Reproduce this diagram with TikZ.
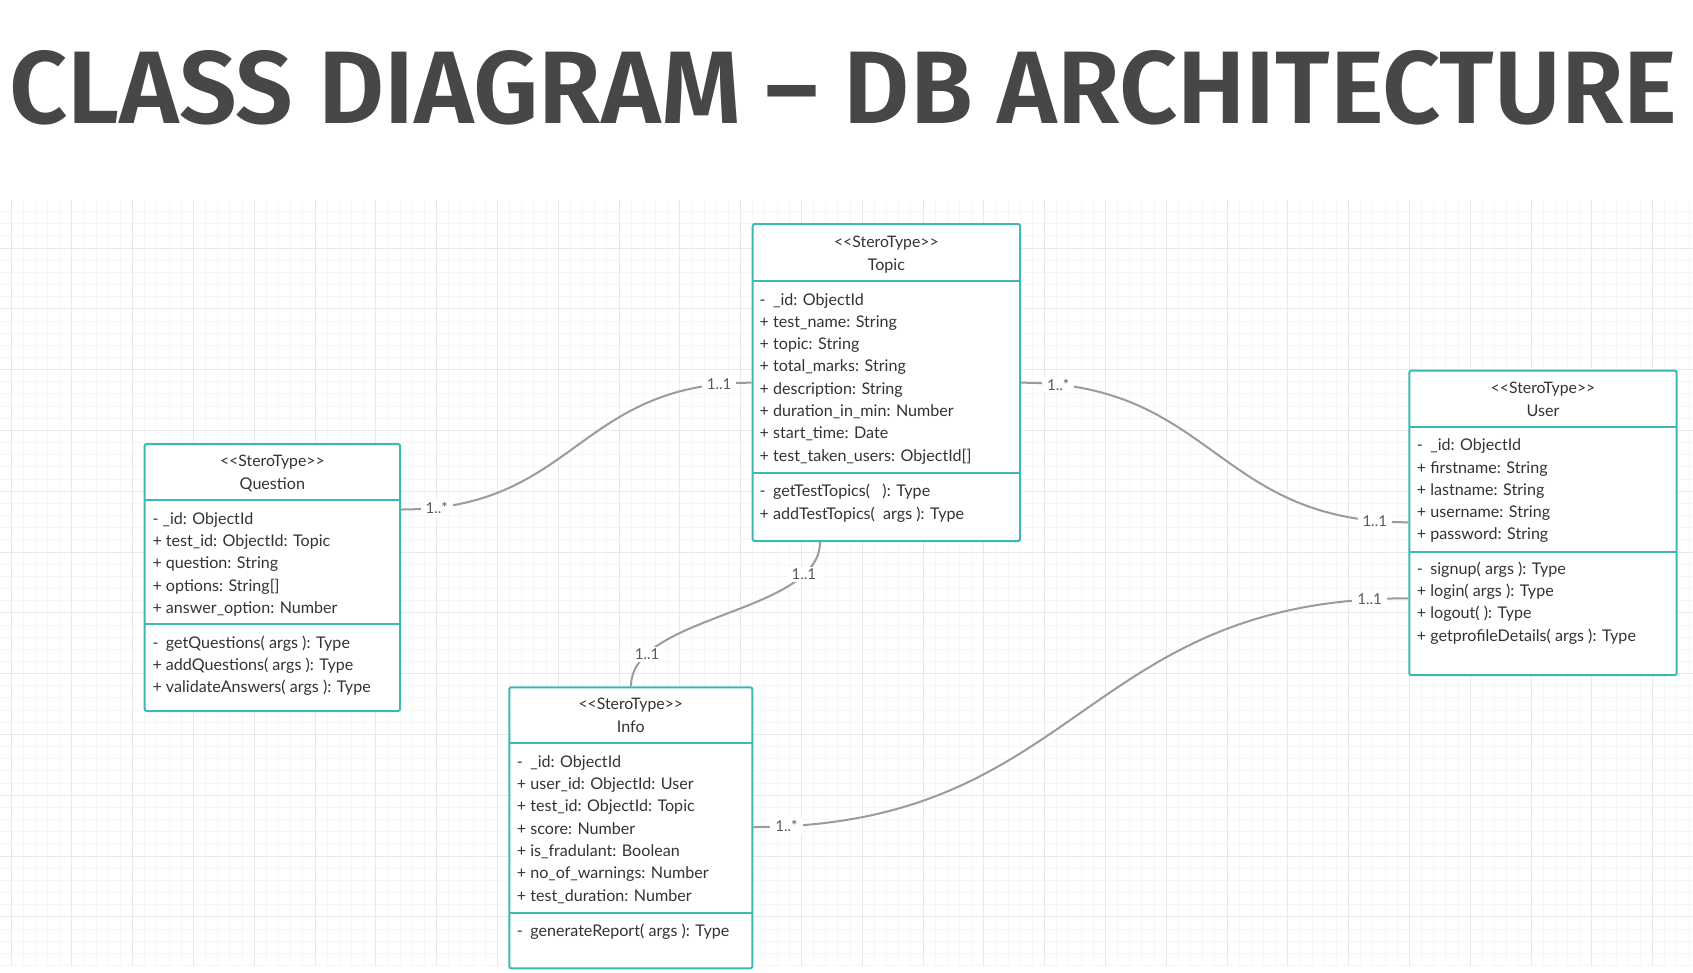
\documentclass[tikz,border=0pt]{standalone}
\usepackage{fontspec}
\usepackage{graphicx}
\setmainfont{Lato}
\newfontfamily\titlefont{Fira Sans}[UprightFont=* SemiBold]
\definecolor{boxc}{RGB}{62,184,180}
\definecolor{txtc}{RGB}{51,51,51}
\definecolor{linec}{RGB}{155,155,155}
\definecolor{multc}{RGB}{90,90,90}
\definecolor{gmin}{RGB}{246,246,246}
\definecolor{gmaj}{RGB}{233,233,233}
\definecolor{titlec}{RGB}{71,71,71}
\begin{document}
\begin{tikzpicture}[x=1pt,y=-1pt,
  gridminor/.style={draw=gmin, line width=1pt},
  gridmajor/.style={draw=gmaj, line width=1pt},
  umlbox/.style={draw=boxc, line width=2pt, rounded corners=2pt, fill=white, inner sep=0pt, outer sep=0pt, anchor=north west},
  sepline/.style={draw=boxc, line width=2pt},
  stereo/.style={anchor=base, inner sep=0pt, text=txtc, font=\fontsize{15.8}{18}\selectfont},
  cname/.style={anchor=base, inner sep=0pt, text=txtc, font=\fontsize{16.1}{18}\selectfont},
  member/.style={anchor=base west, inner sep=0pt, text=txtc, font=\fontsize{16.1}{18}\selectfont},
  conn/.style={draw=linec, line width=2pt, shorten <=1pt, shorten >=1pt},
  mult/.style={fill=white, text=multc, inner xsep=5pt, inner ysep=2pt, font=\fontsize{15}{18}\selectfont}
]
\path[use as bounding box, fill=white] (0,0) rectangle (1693,972);

% grid
\begin{scope}
\clip (0,200) rectangle (1693,966);
\foreach \k in {0,...,138} \draw[gridminor] ({11+12.16*\k},200) -- ({11+12.16*\k},966);
\foreach \k in {0,...,63} \draw[gridminor] (0,{199.4+12.16*\k}) -- (1693,{199.4+12.16*\k});
\foreach \k in {0,...,27} \draw[gridmajor] ({11+60.8*\k},200) -- ({11+60.8*\k},966);
\foreach \k in {0,...,12} \draw[gridmajor] (0,{187.2+60.8*\k}) -- (1693,{187.2+60.8*\k});
\end{scope}

% title
\node[anchor=north west, inner sep=0pt, text=titlec] (title) at (9,50)
  {\resizebox{1668pt}{73pt}{\titlefont CLASS DIAGRAM – DB ARCHITECTURE}};

% Topic
\node[umlbox, minimum width=267.3pt, minimum height=317pt] (topic) at (752.7,224) {};
\draw[sepline] (topic.west |- 0,281) -- (topic.east |- 0,281);
\draw[sepline] (topic.west |- 0,472.7) -- (topic.east |- 0,472.7);
\node[stereo] (topic-st) at (topic.north |- 0,247.3) {<{}<SteroType>{}>};
\node[cname] (topic-nm) at (topic.north |- 0,270) {Topic};
\foreach \mbr [count=\i from 0] in {
  {\rlap{-}\hphantom{+ }\_id: ObjectId},
  {+ test\_name: String},
  {+ topic: String},
  {+ total\_marks: String},
  {+ description: String},
  {+ duration\_in\_min: Number},
  {+ start\_time: Date},
  {+ test\_taken\_users: ObjectId[]}}
  \node[member] (topic-a\i) at (759.5,{305+22.3*\i}) {\mbr};
\foreach \mbr [count=\i from 0] in {
  {\rlap{-}\hphantom{+ }getTestTopics(\ \ \ ): Type},
  {+ addTestTopics(\ \ args ): Type}}
  \node[member] (topic-m\i) at (759.5,{496.7+22.3*\i}) {\mbr};

% Question
\node[umlbox, minimum width=255.3pt, minimum height=267pt] (question) at (144.7,444) {};
\draw[sepline] (question.west |- 0,500.3) -- (question.east |- 0,500.3);
\draw[sepline] (question.west |- 0,624.3) -- (question.east |- 0,624.3);
\node[stereo] (question-st) at (question.north |- 0,466) {<{}<SteroType>{}>};
\node[cname] (question-nm) at (question.north |- 0,489.3) {Question};
\foreach \mbr [count=\i from 0] in {
  {- \_id: ObjectId},
  {+ test\_id: ObjectId: Topic},
  {+ question: String},
  {+ options: String[]},
  {+ answer\_option: Number}}
  \node[member] (question-a\i) at (152.3,{524.3+22.3*\i}) {\mbr};
\foreach \mbr [count=\i from 0] in {
  {\rlap{-}\hphantom{+ }getQuestions( args ): Type},
  {+ addQuestions( args ): Type},
  {+ validateAnswers( args ): Type}}
  \node[member] (question-m\i) at (152.3,{648.3+22.3*\i}) {\mbr};

% Info
\node[umlbox, minimum width=243pt, minimum height=281pt] (info) at (509.3,687.3) {};
\draw[sepline] (info.west |- 0,742.7) -- (info.east |- 0,742.7);
\draw[sepline] (info.west |- 0,912.7) -- (info.east |- 0,912.7);
\node[stereo] (info-st) at (info.north |- 0,709) {<{}<SteroType>{}>};
\node[cname] (info-nm) at (info.north |- 0,732.7) {Info};
\foreach \mbr [count=\i from 0] in {
  {\rlap{-}\hphantom{+ }\_id: ObjectId},
  {+ user\_id: ObjectId: User},
  {+ test\_id: ObjectId: Topic},
  {+ score: Number},
  {+ is\_fradulant: Boolean},
  {+ no\_of\_warnings: Number},
  {+ test\_duration: Number}}
  \node[member] (info-a\i) at (516.7,{767.3+22.3*\i}) {\mbr};
\node[member] (info-m0) at (516.7,936.7) {\rlap{-}\hphantom{+ }generateReport( args ): Type};

% User
\node[umlbox, minimum width=267.4pt, minimum height=304.3pt] (user) at (1409.3,370.7) {};
\draw[sepline] (user.west |- 0,427.3) -- (user.east |- 0,427.3);
\draw[sepline] (user.west |- 0,551.7) -- (user.east |- 0,551.7);
\node[stereo] (user-st) at (user.north |- 0,393.3) {<{}<SteroType>{}>};
\node[cname] (user-nm) at (user.north |- 0,416) {User};
\foreach \mbr [count=\i from 0] in {
  {\rlap{-}\hphantom{+ }\_id: ObjectId},
  {+ firstname: String},
  {+ lastname: String},
  {+ username: String},
  {+ password: String}}
  \node[member] (user-a\i) at (1416.7,{450.7+22.3*\i}) {\mbr};
\foreach \mbr [count=\i from 0] in {
  {\rlap{-}\hphantom{+ }signup( args ): Type},
  {+ login( args ): Type},
  {+ logout( ): Type},
  {+ getprofileDetails( args ): Type}}
  \node[member] (user-m\i) at (1416.7,{574.3+22.3*\i}) {\mbr};

% connectors
\draw[conn] (question.east |- 0,509.5) .. controls +(176,0) and +(-176,0) .. (topic.west |- 0,382.7)
  node[mult, pos=0.075] (m1a) {1..*} node[mult, pos=0.932] (m1b) {1..1};
\draw[conn] (topic.east |- 0,382.7) .. controls +(194.6,0) and +(-194.6,0) .. (user.west |- 0,522.3)
  node[mult, pos=0.07] (m2a) {1..*} node[mult, pos=0.937] (m2b) {1..1};
\draw[conn] (topic.south -| 820,0) .. controls +(0,73) and +(0,-73) .. (info.north -| 631,0)
  node[mult, pos=0.18] (m3a) {1..1} node[mult, pos=0.82] (m3b) {1..1};
\draw[conn] (info.east |- 0,827) .. controls +(328.5,0) and +(-328.5,0) .. (user.west |- 0,598.3)
  node[mult, pos=0.036] (m4a) {1..*} node[mult, pos=0.958] (m4b) {1..1};
\end{tikzpicture}
\end{document}
